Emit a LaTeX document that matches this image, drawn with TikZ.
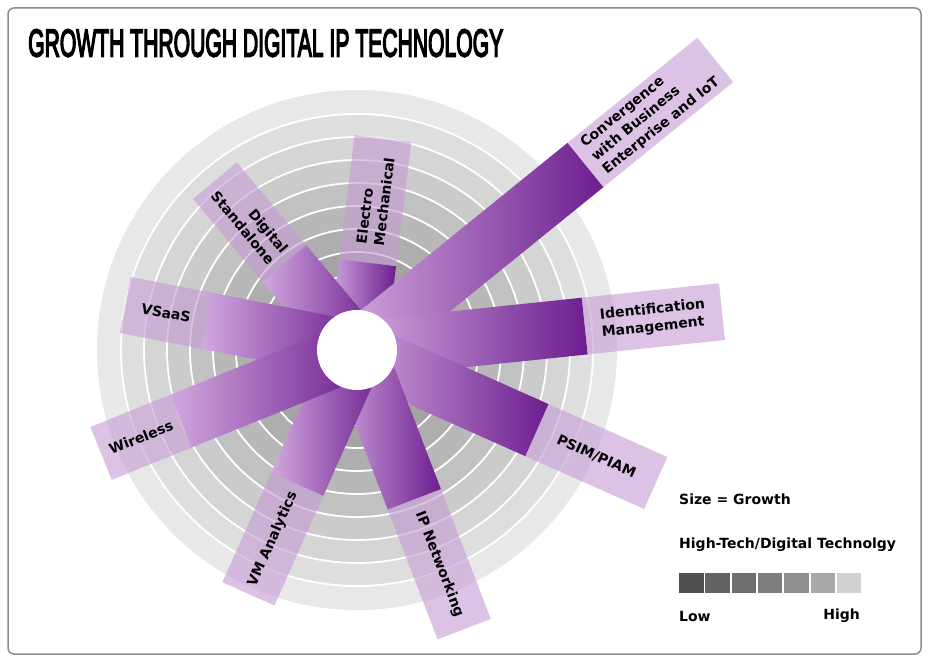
\documentclass[tikz,border=0pt]{standalone}
\usepackage{fontspec}
\newfontfamily\lblfont{DejaVu Sans}
\newfontfamily\ttlfont{Liberation Sans}[FakeBold=5]

\definecolor{barlight}{HTML}{D2A8DF}
\definecolor{bardark}{HTML}{6C1D8E}
\definecolor{lblbox}{HTML}{C59BD4}
\definecolor{framegray}{HTML}{8C8C8C}

\tikzset{
  purplebar/.style={left color=barlight, right color=bardark},
  labelbox/.style={fill=lblbox, fill opacity=0.6},
  barlabel/.style={font=\lblfont\bfseries\fontsize{14}{17.5}\selectfont, inner sep=0pt, transform shape},
  ring/.style={draw=white, line width=1.8pt},
  legendtxt/.style={font=\lblfont\bfseries\fontsize{14}{16}\selectfont, inner sep=0pt, anchor=west},
}

\begin{document}
\begin{tikzpicture}[x=1pt,y=1pt]
\useasboundingbox (0,0) rectangle (928,661);
\coordinate (hub) at (357,311);

% grey rings, outside in
\foreach \j in {10,...,1}{
  \pgfmathsetmacro\grey{47-3.8*\j}
  \pgfmathsetmacro\rad{\j==10 ? 261 : 29+23*\j}
  \draw[ring, fill=black!\grey] (hub) circle (\rad);
}

% bars: name / angle / end of bar / end of label / text turn / align / text
\foreach \nm/\ang/\la/\lb/\rot/\al/\txt in {
    elec/83/88/213/0/left/{Electro\\Mechanical},
    digi/130/113/221/180/right/{Digital\\Standalone},
    conv/39/294/461/0/left/{Convergence\\with Business\\Enterprise and IoT},
    ident/6/229/367/0/left/{Identification\\Management},
    psim/-24/197/327/0/left/{PSIM/PIAM},
    ipnet/-69/160/299/0/left/{IP Networking},
    vman/246/147/267/180/right/{VM Analytics},
    vsaas/169/153/236/180/right/{VSaaS},
    wire/202/190/276/180/right/{Wireless}}{
  \begin{scope}[shift={(hub)}, rotate=\ang]
    \shade[purplebar] (0,-28.5) rectangle (\la,28.5);
    \fill[labelbox] (\la,-28.5) rectangle (\lb,28.5);
    \node[barlabel, rotate=\rot, align=\al] (\nm) at ({(\la+\lb)/2},0) {\txt};
  \end{scope}
}

\fill[white] (hub) circle (40);

\node[anchor=south west, inner sep=0pt] (title) at (28,604)
  {\resizebox{475pt}{27pt}{\ttlfont GROWTH THROUGH DIGITAL IP TECHNOLOGY}};

% legend
\node[legendtxt] (size) at (679,162) {Size = Growth};
\begin{scope}
  \clip (0,0) rectangle (903,661);
  \node[legendtxt] (hitech) at (679,116) {High-Tech/Digital Technolgy};
\end{scope}
\foreach \i/\g in {0/69,1/61,2/57,3/51,4/44,5/34,6/18}
  \fill[black!\g] ({679+26.3*\i},68) rectangle ++(24.5,20);
\node[legendtxt] (low) at (679,45) {Low};
\node[legendtxt, anchor=east] (high) at (860,45) {High};

\draw[framegray, line width=1.5pt, rounded corners=6pt] (8,7) rectangle (921,653);
\end{tikzpicture}
\end{document}
